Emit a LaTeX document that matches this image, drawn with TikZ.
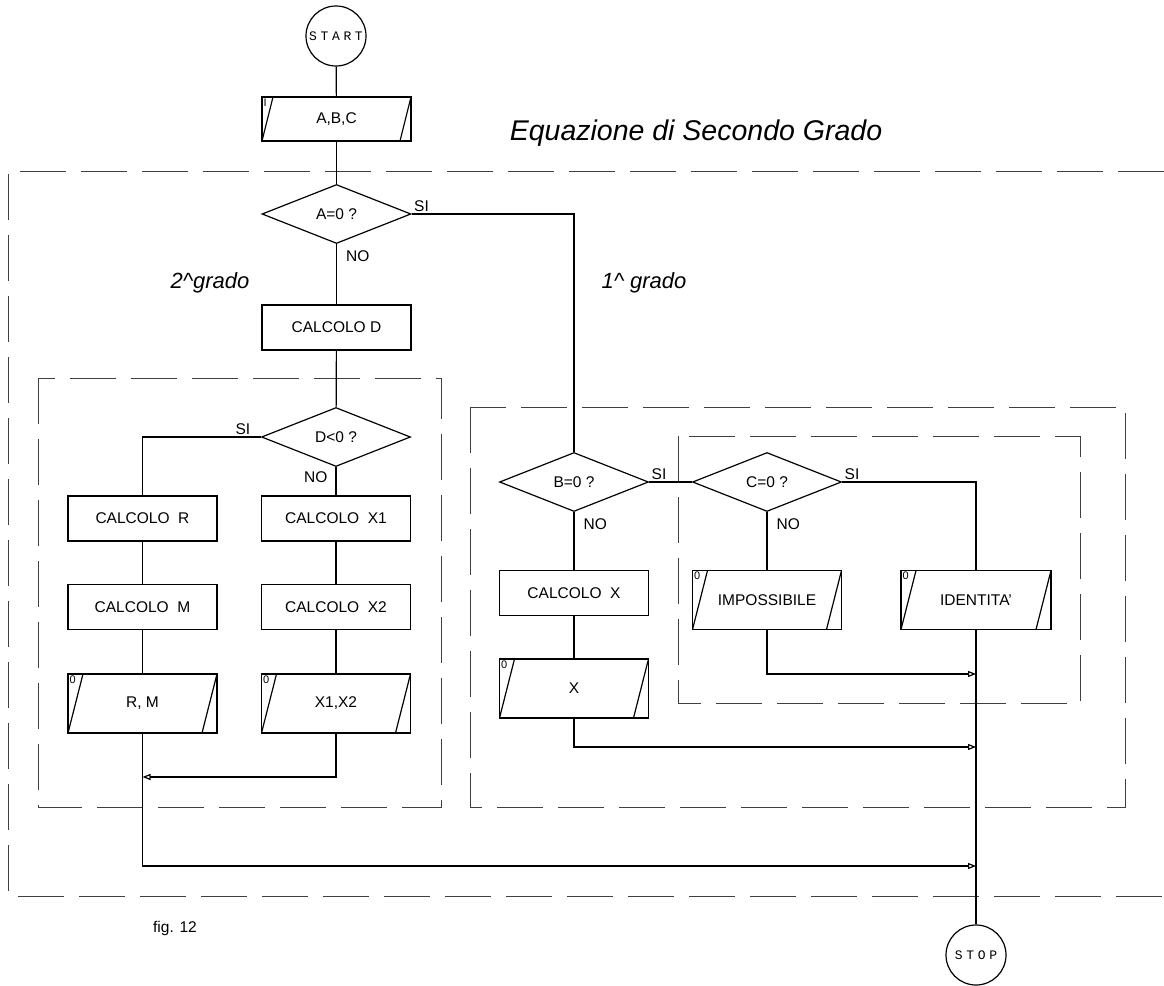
\documentclass[tikz,border=0pt]{standalone}
\usepackage{fontspec}
\setmainfont{Liberation Sans}
\newfontfamily\stencilfont[LetterSpace=28]{Liberation Mono}
\usetikzlibrary{shapes.geometric}
\usetikzlibrary{arrows.meta}

\begin{document}
\begin{tikzpicture}[
        x=1pt, y=-1pt,
        every node/.style={font=\fontsize{15.5}{18}\selectfont},
        flow/.style={line width=1.2pt},
        arr/.style={flow,-{Triangle[open,length=8pt,width=6pt]}},
        terminal/.style={circle,draw,line width=1.2pt,minimum size=60pt,inner sep=0pt,font=\stencilfont\fontsize{13}{13}\selectfont},
        procbox/.style={rectangle,draw,line width=1.2pt,minimum width=149pt,minimum height=45pt,inner sep=0pt},
        iobox/.style={procbox,minimum height=59pt,
            path picture={
                \draw[line width=1.2pt] (path picture bounding box.south west) -- ([xshift=#1pt]path picture bounding box.north west);
                \draw[line width=1.2pt] ([xshift=-#1pt]path picture bounding box.south east) -- (path picture bounding box.north east);}},
        iobox/.default=15,
        corner/.style={anchor=north west,inner sep=2pt,font=\fontsize{11}{11}\selectfont},
        decision/.style={diamond,draw,line width=1.2pt,aspect=2.5,minimum width=149pt,minimum height=59pt,inner sep=0pt},
        groupbox/.style={draw=black!75,line width=1pt,dash pattern=on 46pt off 15pt},
        sideyes/.style={anchor=south west,inner sep=2pt},
        sideno/.style={anchor=north west,inner sep=2pt,xshift=7pt,yshift=-4pt},
        heading/.style={font=\fontsize{#1}{#1}\selectfont\itshape},
    ]
    \useasboundingbox (0,0) rectangle (1164,985);

    % group frames
    \draw[groupbox] (1164,171) -- (8,171) -- (8,896) -- (1164,896);
    \draw[groupbox] (38,378) rectangle (441,807);
    \draw[groupbox] (470,407) rectangle (1125,807);
    \draw[groupbox] (678,436) rectangle (1080,703);

    \node[heading=28.5](title) at (696,133){Equazione di Secondo Grado};
    \node[heading=22](second) at (210,283){2\^{}grado};
    \node[heading=22](first) at (644,283){1\^{} grado};
    \node(fig) at (175,928){fig. 12};

    \node[terminal](start) at (336,36){START};
    \node[procbox, iobox=11, minimum height=44pt, label={[corner]north west:I}](abc) at (336.5,119){A,B,C};
    \node[decision](a0) at (336.5,214){A=0 ?};
    \node[procbox](calcd) at (336.5,327.5){CALCOLO D};

    % second degree
    \node[decision](d0) at (336,437){D<0 ?};
    \node[procbox](calcr) at (142.5,518.5){CALCOLO\ \ R};
    \node[procbox](calcm) at (142.5,607){CALCOLO\ \ M};
    \node[iobox, label={[corner]north west:0}](rm) at (142.5,703.5){R, M};
    \node[procbox](calcx1) at (336,518.5){CALCOLO\ \ X1};
    \node[procbox](calcx2) at (336,607){CALCOLO\ \ X2};
    \node[iobox, label={[corner]north west:0}](x12) at (336,703.5){X1,X2};

    % first degree
    \node[decision](b0) at (574,482){B=0 ?};
    \node[procbox](calcx) at (574,593){CALCOLO\ \ X};
    \node[iobox, label={[corner]north west:0}](xout) at (574,688.5){X};
    \node[decision](c0) at (767,482){C=0 ?};
    \node[iobox, label={[corner]north west:0}](imposs) at (767,600){IMPOSSIBILE};
    \node[iobox, minimum width=150pt, label={[corner]north west:0}](ident) at (976,600){IDENTITA'};

    \node[terminal](stop) at (976,955){STOP};

    \coordinate (joinrm) at (142.5,777);
    \coordinate (joinimp) at (976,674);
    \coordinate (joinx) at (976,747);
    \coordinate (joinsec) at (976,866);

    \draw[flow] (start) -- (abc);
    \draw[flow] (abc) -- (a0);
    \draw[flow] (a0.south) -- (calcd.north) node[pos=0,sideno]{NO};
    \draw[flow] (a0.east) -| (b0.north) node[pos=0,sideyes]{SI};
    \draw[flow] (calcd) -- (d0);
    \draw[flow] (d0.west) -| (calcr.north) node[pos=0,anchor=south east,inner sep=2pt,xshift=-8pt]{SI};
    \draw[flow] (d0.south) -- (calcx1.north) node[pos=0,anchor=north east,inner sep=2pt,xshift=-6pt,yshift=-2pt]{NO};
    \draw[flow] (calcr) -- (calcm);
    \draw[flow] (calcm) -- (rm);
    \draw[flow] (calcx1) -- (calcx2);
    \draw[flow] (calcx2) -- (x12);
    \draw[arr] (x12.south) |- (joinrm);
    \draw[arr] (rm.south) |- (joinsec);

    \draw[flow] (b0.south) -- (calcx.north) node[pos=0,sideno]{NO};
    \draw[flow] (b0.east) -- (c0.west) node[pos=0,sideyes]{SI};
    \draw[flow] (calcx) -- (xout);
    \draw[arr] (xout.south) |- (joinx);
    \draw[flow] (c0.south) -- (imposs.north) node[pos=0,sideno]{NO};
    \draw[flow] (c0.east) -| (ident.north) node[pos=0,sideyes]{SI};
    \draw[arr] (imposs.south) |- (joinimp);
    \draw[flow] (ident.south) -- (stop.north);
\end{tikzpicture}
\end{document}
